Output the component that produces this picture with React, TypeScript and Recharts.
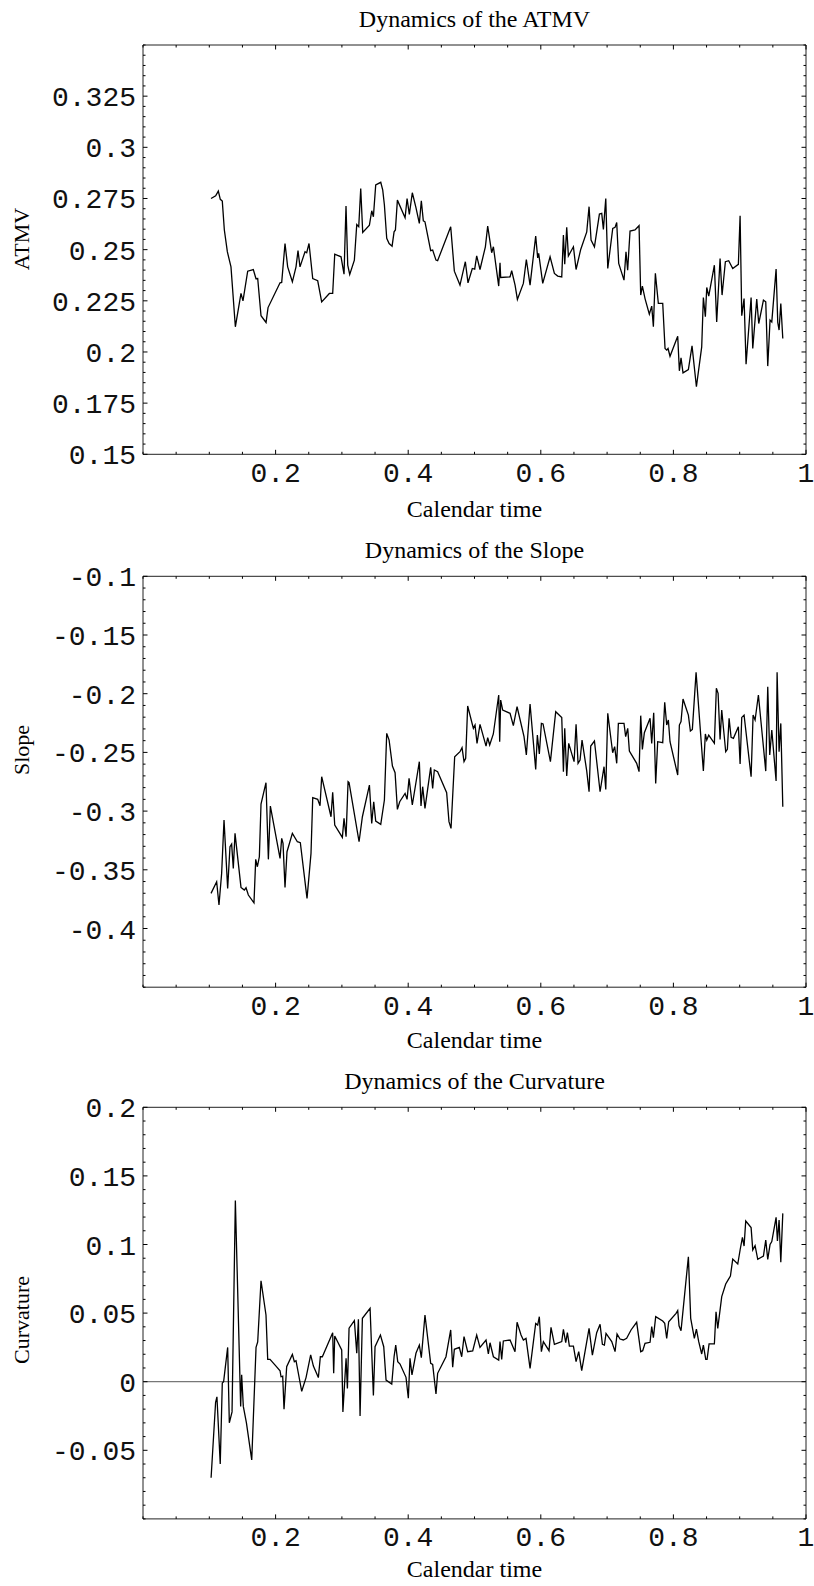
import { LineChart, Line, XAxis, YAxis, ReferenceArea, ReferenceLine } from "recharts";

// [calendar time, value] pairs
const atmvPoints: [number, number][] = [
  [0.1026, 0.275], [0.1096, 0.2763], [0.1136, 0.2786], [0.1166, 0.2746], [0.1196, 0.2737], [0.1227, 0.2596],
  [0.1272, 0.249], [0.1327, 0.2416], [0.1393, 0.2123], [0.1478, 0.2286], [0.1508, 0.225], [0.1579, 0.2395],
  [0.1664, 0.2403], [0.1704, 0.2358], [0.173, 0.2359], [0.178, 0.2177], [0.1856, 0.2144], [0.1886, 0.2217],
  [0.2067, 0.2338], [0.2092, 0.234], [0.2142, 0.253], [0.2182, 0.2416], [0.2253, 0.2343], [0.2308, 0.2416],
  [0.2338, 0.2495], [0.2368, 0.2416], [0.2444, 0.249], [0.2469, 0.2485], [0.2504, 0.253], [0.256, 0.2359],
  [0.2635, 0.2348], [0.2695, 0.2245], [0.2811, 0.2286], [0.2861, 0.2286], [0.2892, 0.2478], [0.2987, 0.2465],
  [0.3032, 0.238], [0.3062, 0.2713], [0.3088, 0.2424], [0.3118, 0.2379], [0.3188, 0.2449], [0.3224, 0.2623],
  [0.3254, 0.2612], [0.3284, 0.2799], [0.3314, 0.2584], [0.3415, 0.262], [0.345, 0.269], [0.3475, 0.2661],
  [0.351, 0.2816], [0.3586, 0.2829], [0.3616, 0.2791], [0.3641, 0.2718], [0.3676, 0.2555], [0.3712, 0.253],
  [0.3757, 0.2517], [0.3787, 0.2587], [0.3807, 0.2596], [0.3837, 0.2742], [0.3953, 0.2656], [0.3983, 0.275],
  [0.4017, 0.2672], [0.4062, 0.2778], [0.4117, 0.2705], [0.4168, 0.2628], [0.4198, 0.2739], [0.4228, 0.2641],
  [0.4253, 0.2636], [0.4339, 0.2495], [0.4369, 0.2498], [0.4419, 0.2449], [0.4444, 0.2446], [0.4641, 0.2612],
  [0.4696, 0.2395], [0.4781, 0.2327], [0.4862, 0.2441], [0.4902, 0.2338], [0.4967, 0.2408], [0.5003, 0.2405],
  [0.5033, 0.247], [0.5083, 0.2403], [0.5164, 0.2514], [0.5199, 0.2615], [0.5259, 0.2485], [0.5285, 0.2514],
  [0.5365, 0.2322], [0.5385, 0.2436], [0.5395, 0.2364], [0.5536, 0.2367], [0.5561, 0.2397], [0.5612, 0.2327],
  [0.5647, 0.2257], [0.5737, 0.2335], [0.5782, 0.2452], [0.5838, 0.2327], [0.5923, 0.2566], [0.5953, 0.246],
  [0.5968, 0.2482], [0.6029, 0.2335], [0.614, 0.2465], [0.6205, 0.2384], [0.6255, 0.2371], [0.6316, 0.2367],
  [0.6341, 0.2571], [0.6361, 0.2429], [0.6391, 0.2609], [0.6416, 0.2469], [0.6492, 0.2514], [0.6532, 0.2403],
  [0.6602, 0.2501], [0.6693, 0.2587], [0.6728, 0.271], [0.6758, 0.2547], [0.6809, 0.2514], [0.6884, 0.2674],
  [0.6919, 0.2677], [0.6944, 0.2599], [0.698, 0.275], [0.701, 0.2408], [0.7085, 0.2604], [0.712, 0.2609],
  [0.7145, 0.2633], [0.7175, 0.2433], [0.7255, 0.2351], [0.7285, 0.249], [0.731, 0.24], [0.7346, 0.2591],
  [0.7421, 0.2596], [0.7482, 0.2617], [0.7507, 0.2278], [0.7532, 0.2322], [0.7572, 0.2261], [0.7637, 0.2185],
  [0.7673, 0.2224], [0.7698, 0.2123], [0.7728, 0.2384], [0.7773, 0.2237], [0.7839, 0.2237], [0.7874, 0.2017],
  [0.7899, 0.2009], [0.7919, 0.2017], [0.7949, 0.1979], [0.8065, 0.2077], [0.809, 0.1908], [0.8115, 0.1971],
  [0.8145, 0.1898], [0.8226, 0.1914], [0.8281, 0.203], [0.8347, 0.183], [0.8427, 0.2025], [0.8452, 0.2266],
  [0.8482, 0.2172], [0.8503, 0.2315], [0.8533, 0.2273], [0.8618, 0.2424], [0.8653, 0.2147], [0.8704, 0.2457],
  [0.8734, 0.2278], [0.8784, 0.2441], [0.8834, 0.2446], [0.8895, 0.2408], [0.898, 0.2428], [0.9006, 0.2666],
  [0.9031, 0.2177], [0.9066, 0.2261], [0.9096, 0.194], [0.9172, 0.2266], [0.9197, 0.2017], [0.9257, 0.2258],
  [0.9287, 0.2139], [0.9358, 0.2253], [0.9393, 0.2245], [0.9423, 0.1931], [0.9458, 0.2156], [0.9484, 0.2147],
  [0.9549, 0.2405], [0.9574, 0.2144], [0.9594, 0.2107], [0.962, 0.2237], [0.965, 0.2066],
];

const slopePoints: [number, number][] = [
  [0.1026, -0.3701], [0.1111, -0.3602], [0.1146, -0.38], [0.1186, -0.3531], [0.1222, -0.3076], [0.1277, -0.3658],
  [0.1312, -0.3303], [0.1337, -0.3281], [0.1362, -0.3488], [0.1388, -0.319], [0.1478, -0.365], [0.1528, -0.3673],
  [0.1554, -0.3653], [0.1589, -0.3715], [0.1674, -0.3781], [0.17, -0.3411], [0.1725, -0.3474], [0.1755, -0.3389],
  [0.178, -0.294], [0.1855, -0.2758], [0.1891, -0.3411], [0.1921, -0.2957], [0.2067, -0.3403], [0.2092, -0.3232],
  [0.2112, -0.3275], [0.2142, -0.365], [0.2172, -0.3346], [0.2253, -0.319], [0.2328, -0.3261], [0.2373, -0.3269],
  [0.2474, -0.3744], [0.2534, -0.336], [0.256, -0.2886], [0.2635, -0.29], [0.267, -0.2954], [0.2695, -0.2707],
  [0.2836, -0.3048], [0.2861, -0.284], [0.2892, -0.3119], [0.3007, -0.3224], [0.3032, -0.3062], [0.3063, -0.3218],
  [0.3093, -0.275], [0.3108, -0.2758], [0.3259, -0.3261], [0.3309, -0.3048], [0.3415, -0.2778], [0.345, -0.3105],
  [0.348, -0.292], [0.351, -0.3085], [0.3586, -0.3113], [0.3641, -0.2906], [0.3676, -0.2338], [0.3712, -0.2395],
  [0.3762, -0.2616], [0.3802, -0.2673], [0.3837, -0.2985], [0.3872, -0.292], [0.3953, -0.2849], [0.3983, -0.29],
  [0.4013, -0.2721], [0.4062, -0.2948], [0.4168, -0.2579], [0.4193, -0.2957], [0.4218, -0.2792], [0.4253, -0.2977],
  [0.4339, -0.2627], [0.4369, -0.2806], [0.4394, -0.265], [0.4444, -0.2664], [0.458, -0.2843], [0.4615, -0.309],
  [0.4646, -0.3147], [0.4701, -0.2537], [0.4781, -0.2494], [0.4812, -0.246], [0.4842, -0.2579], [0.4867, -0.2551],
  [0.4897, -0.2105], [0.4983, -0.2295], [0.5008, -0.2267], [0.5038, -0.2423], [0.5083, -0.2261], [0.5174, -0.2446],
  [0.5199, -0.2375], [0.5229, -0.2437], [0.5284, -0.2343], [0.5365, -0.2011], [0.538, -0.2409], [0.5395, -0.2054],
  [0.5425, -0.2139], [0.5536, -0.2167], [0.5586, -0.2272], [0.5642, -0.2111], [0.5747, -0.2366], [0.5782, -0.2522],
  [0.5838, -0.2088], [0.5923, -0.2645], [0.5948, -0.2352], [0.5978, -0.2514], [0.6009, -0.2253], [0.6034, -0.2258],
  [0.6145, -0.2579], [0.6225, -0.2153], [0.6316, -0.2202], [0.6341, -0.2664], [0.6361, -0.2295], [0.6391, -0.2701],
  [0.6421, -0.2423], [0.6502, -0.2579], [0.6532, -0.2261], [0.6562, -0.2593], [0.6592, -0.2565], [0.6622, -0.2395],
  [0.6693, -0.2659], [0.6728, -0.2835], [0.6753, -0.2446], [0.6809, -0.2403], [0.6894, -0.2835], [0.6954, -0.2622],
  [0.698, -0.2815], [0.701, -0.2167], [0.7084, -0.2503], [0.7114, -0.2451], [0.7145, -0.2593], [0.717, -0.2253],
  [0.7255, -0.2253], [0.728, -0.2366], [0.7311, -0.2295], [0.7336, -0.2488], [0.7446, -0.2593], [0.7482, -0.2664],
  [0.7507, -0.2187], [0.7532, -0.2474], [0.7562, -0.2332], [0.7648, -0.221], [0.7673, -0.2423], [0.7703, -0.2162],
  [0.7733, -0.2764], [0.7763, -0.2409], [0.7839, -0.2417], [0.7869, -0.2074], [0.7899, -0.2267], [0.7924, -0.2224],
  [0.7949, -0.2409], [0.8065, -0.2693], [0.809, -0.2267], [0.8115, -0.2238], [0.8145, -0.2045], [0.8226, -0.2182],
  [0.8256, -0.2318], [0.8286, -0.2304], [0.8342, -0.1818], [0.8452, -0.2659], [0.8482, -0.2343], [0.8503, -0.2395],
  [0.8533, -0.2352], [0.8618, -0.2423], [0.8648, -0.1954], [0.8674, -0.1997], [0.8704, -0.2389], [0.8729, -0.2139],
  [0.8789, -0.2494], [0.8814, -0.2474], [0.884, -0.221], [0.887, -0.2372], [0.8905, -0.238], [0.898, -0.2281],
  [0.9006, -0.2599], [0.9031, -0.2202], [0.9066, -0.2182], [0.9172, -0.2707], [0.9202, -0.2182], [0.9232, -0.2224],
  [0.9282, -0.2011], [0.9393, -0.2659], [0.9423, -0.194], [0.9453, -0.2522], [0.9484, -0.2309], [0.9549, -0.2744],
  [0.9564, -0.1818], [0.9594, -0.2494], [0.962, -0.2253], [0.965, -0.2963],
];

const curvaturePoints: [number, number][] = [
  [0.1027, -0.07], [0.1095, -0.015], [0.1115, -0.011], [0.1165, -0.06], [0.1196, -0.001], [0.1216, 0.0],
  [0.1277, 0.025], [0.1302, -0.03], [0.1343, -0.022], [0.1393, 0.132], [0.1473, -0.018], [0.1488, 0.005],
  [0.1513, -0.018], [0.156, -0.03], [0.164, -0.057], [0.1705, 0.025], [0.173, 0.029], [0.178, 0.0736],
  [0.1855, 0.0486], [0.1881, 0.0163], [0.1916, 0.0163], [0.2006, 0.0114], [0.2067, 0.008], [0.2082, 0.0036],
  [0.2107, 0.004], [0.2127, -0.02], [0.2167, 0.011], [0.2253, 0.0199], [0.2283, 0.0146], [0.2308, 0.0153],
  [0.2394, -0.007], [0.2459, 0.003], [0.2529, 0.0195], [0.257, 0.0114], [0.2645, 0.003], [0.2675, 0.0182],
  [0.2705, 0.0182], [0.2861, 0.0357], [0.2876, 0.0061], [0.2892, 0.0333], [0.2997, 0.0231], [0.3015, -0.022],
  [0.3063, 0.017], [0.3083, -0.005], [0.3108, 0.039], [0.3188, 0.0445], [0.3224, 0.0207], [0.3249, 0.0455],
  [0.3274, -0.025], [0.3309, 0.0462], [0.3425, 0.0535], [0.3475, -0.01], [0.35, 0.0255], [0.3581, 0.034],
  [0.3631, 0.0255], [0.3666, 0.0012], [0.3752, -0.0017], [0.3787, 0.0182], [0.3812, 0.0267], [0.3842, 0.0146],
  [0.3877, 0.0129], [0.3967, 0.0032], [0.4002, -0.012], [0.4027, 0.017], [0.4057, 0.0049], [0.4117, 0.0207],
  [0.4168, 0.0267], [0.4198, 0.0175], [0.4253, 0.0486], [0.4339, 0.0134], [0.4369, 0.0126], [0.4419, -0.009],
  [0.4444, 0.0061], [0.457, 0.0182], [0.4641, 0.0377], [0.4671, 0.0105], [0.4696, 0.0236], [0.4771, 0.025],
  [0.4807, 0.0182], [0.4842, 0.0328], [0.4897, 0.0219], [0.4973, 0.0224], [0.5033, 0.034], [0.5083, 0.025],
  [0.5174, 0.0304], [0.5209, 0.0202], [0.5234, 0.0284], [0.5285, 0.0182], [0.5365, 0.0158], [0.5385, 0.0292],
  [0.541, 0.0163], [0.5435, 0.0297], [0.5536, 0.0304], [0.5611, 0.0219], [0.5642, 0.0433], [0.5702, 0.034],
  [0.5737, 0.0304], [0.5777, 0.0316], [0.5838, 0.0097], [0.5923, 0.0425], [0.5953, 0.0413], [0.5978, 0.0474],
  [0.6009, 0.0219], [0.6039, 0.0292], [0.6124, 0.0226], [0.6154, 0.0396], [0.6205, 0.0272], [0.6316, 0.0292],
  [0.6341, 0.0382], [0.6376, 0.0284], [0.6401, 0.0357], [0.6431, 0.026], [0.6492, 0.026], [0.6532, 0.0146],
  [0.6572, 0.0219], [0.6617, 0.008], [0.6728, 0.0389], [0.6778, 0.0194], [0.6843, 0.0357], [0.6894, 0.0418],
  [0.6929, 0.0272], [0.6959, 0.0267], [0.6984, 0.0352], [0.707, 0.0292], [0.712, 0.0219], [0.715, 0.0347],
  [0.7195, 0.0311], [0.7245, 0.0304], [0.7295, 0.0316], [0.7361, 0.0377], [0.7446, 0.0433], [0.7507, 0.0219],
  [0.7537, 0.0226], [0.7572, 0.028], [0.7648, 0.0287], [0.7673, 0.0401], [0.7698, 0.0321], [0.7733, 0.0474],
  [0.7839, 0.0442], [0.7869, 0.0425], [0.7899, 0.0316], [0.7929, 0.0437], [0.804, 0.0498], [0.8065, 0.0518],
  [0.8085, 0.0408], [0.8115, 0.0372], [0.8226, 0.0911], [0.8261, 0.0462], [0.8316, 0.0316], [0.8347, 0.0384],
  [0.8382, 0.0292], [0.8427, 0.0202], [0.8452, 0.0267], [0.8488, 0.0163], [0.8508, 0.0163], [0.8538, 0.0275],
  [0.8618, 0.0275], [0.8643, 0.051], [0.8669, 0.0389], [0.8729, 0.062], [0.8789, 0.0712], [0.883, 0.0746],
  [0.886, 0.077], [0.8895, 0.0894], [0.8971, 0.0858], [0.9006, 0.096], [0.9041, 0.1052], [0.9066, 0.0989],
  [0.9091, 0.1171], [0.9172, 0.1123], [0.9197, 0.096], [0.9232, 0.0991], [0.9272, 0.0892], [0.9358, 0.0916],
  [0.9393, 0.1033], [0.9423, 0.0892], [0.9458, 0.1001], [0.9484, 0.1021], [0.9549, 0.1198], [0.9569, 0.1026],
  [0.9594, 0.1179], [0.962, 0.087], [0.965, 0.1227],
];

// labelled (major) ticks
const xMajor = [0.2, 0.4, 0.6, 0.8, 1];
const atmvMajor = [0.15, 0.175, 0.2, 0.225, 0.25, 0.275, 0.3, 0.325];
const slopeMajor = [-0.4, -0.35, -0.3, -0.25, -0.2, -0.15, -0.1];
const curvatureMajor = [-0.05, 0, 0.05, 0.1, 0.15, 0.2];

const W = 814;
const LEFT = 143;
const RIGHT = 806;
const MONO = "'Liberation Mono', 'Courier New', monospace";
const SERIF = "'Liberation Serif', 'Times New Roman', serif";

const steps = (from: number, to: number, step: number) => {
  const out: number[] = [];
  const n = Math.round((to - from) / step);
  for (let i = 0; i <= n; i++) out.push(Math.round((from + i * step) * 1e6) / 1e6);
  return out;
};
const isMajor = (list: number[], v: number) => list.some((m) => Math.abs(m - v) < 1e-9);

const xTicks = steps(0, 1, 0.05);

const XTick = (props: any) => {
  const { x, payload, top, bottom } = props;
  const major = isMajor(xMajor, payload.value);
  const len = major ? 4.5 : 2.5;
  return (
    <g>
      <line x1={x} x2={x} y1={bottom} y2={bottom - len} stroke="#000" />
      <line x1={x} x2={x} y1={top} y2={top + len} stroke="#000" />
      {major && (
        <text x={x} y={bottom + 27.5} textAnchor="middle" fontFamily={MONO} fontSize={28} fill="#111">
          {String(payload.value)}
        </text>
      )}
    </g>
  );
};

const YTick = (props: any) => {
  const { y, payload, major: majorList } = props;
  const major = isMajor(majorList, payload.value);
  const len = major ? 4.5 : 2.5;
  return (
    <g>
      <line x1={LEFT} x2={LEFT + len} y1={y} y2={y} stroke="#000" />
      <line x1={RIGHT - len} x2={RIGHT} y1={y} y2={y} stroke="#000" />
      {major && (
        <text x={LEFT - 7} y={y + 10} textAnchor="end" fontFamily={MONO} fontSize={28} fill="#111">
          {String(payload.value)}
        </text>
      )}
    </g>
  );
};

type PanelProps = {
  title: string;
  yLabel: string;
  yLabelAt: number;
  xLabelGap: number;
  points: [number, number][];
  domain: [number, number];
  minorStep: number;
  major: number[];
  height: number;
  frameTop: number;
  frameBottom: number;
  zeroLine?: boolean;
};

const Panel = (p: PanelProps) => {
  const { title, yLabel, yLabelAt, xLabelGap, points, domain, minorStep, major, height, frameTop, frameBottom, zeroLine } = p;
  const data = points.map(([t, v]) => ({ t, v }));
  const yTicks = steps(domain[0], domain[1], minorStep);
  const cx = (LEFT + RIGHT) / 2;
  return (
    <LineChart
      width={W}
      height={height}
      data={data}
      margin={{ top: frameTop, right: W - RIGHT, bottom: height - frameBottom - 30, left: 0 }}
    >
      <XAxis
        dataKey="t"
        type="number"
        domain={[0, 1]}
        ticks={xTicks}
        interval={0}
        height={30}
        axisLine={false}
        tickLine={false}
        tick={(tp: any) => <XTick {...tp} top={frameTop} bottom={frameBottom} />}
        label={{
          content: () => (
            <g fontFamily={SERIF} fontSize={24} fill="#000">
              <text x={cx} y={frameTop - 18} textAnchor="middle">{title}</text>
              <text x={cx} y={frameBottom + xLabelGap} textAnchor="middle">Calendar time</text>
            </g>
          ),
        }}
      />
      <YAxis
        type="number"
        domain={domain}
        ticks={yTicks}
        interval={0}
        width={LEFT}
        axisLine={false}
        tickLine={false}
        tick={(tp: any) => <YTick {...tp} major={major} />}
        label={{
          content: () => (
            <text
              x={29}
              y={yLabelAt}
              transform={`rotate(-90 29 ${yLabelAt})`}
              textAnchor="middle"
              fontFamily={SERIF}
              fontSize={22}
              fill="#000"
            >
              {yLabel}
            </text>
          ),
        }}
      />
      <ReferenceArea x1={0} x2={1} y1={domain[0]} y2={domain[1]} fill="none" stroke="#222" strokeWidth={1} />
      {zeroLine && <ReferenceLine y={0} stroke="#777" strokeWidth={1.2} />}
      <Line
        type="linear"
        dataKey="v"
        stroke="#000"
        strokeWidth={1.3}
        dot={false}
        activeDot={false}
        isAnimationActive={false}
      />
    </LineChart>
  );
};

export default function App() {
  return (
    <div style={{ position: "absolute", left: 0, top: 0, width: W, height: 1586, background: "#fff" }}>
      <Panel
        title="Dynamics of the ATMV"
        yLabel="ATMV"
        yLabelAt={239}
        xLabelGap={63}
        points={atmvPoints}
        domain={[0.15, 0.35]}
        minorStep={0.005}
        major={atmvMajor}
        height={531}
        frameTop={45}
        frameBottom={454.3}
      />
      <Panel
        title="Dynamics of the Slope"
        yLabel="Slope"
        yLabelAt={219}
        xLabelGap={61}
        points={slopePoints}
        domain={[-0.45, -0.1]}
        minorStep={0.01}
        major={slopeMajor}
        height={531}
        frameTop={45.3}
        frameBottom={456.2}
      />
      <Panel
        title="Dynamics of the Curvature"
        yLabel="Curvature"
        yLabelAt={258}
        xLabelGap={58}
        points={curvaturePoints}
        domain={[-0.1, 0.2]}
        minorStep={0.01}
        major={curvatureMajor}
        height={524}
        frameTop={45.3}
        frameBottom={456.9}
        zeroLine
      />
    </div>
  );
}
